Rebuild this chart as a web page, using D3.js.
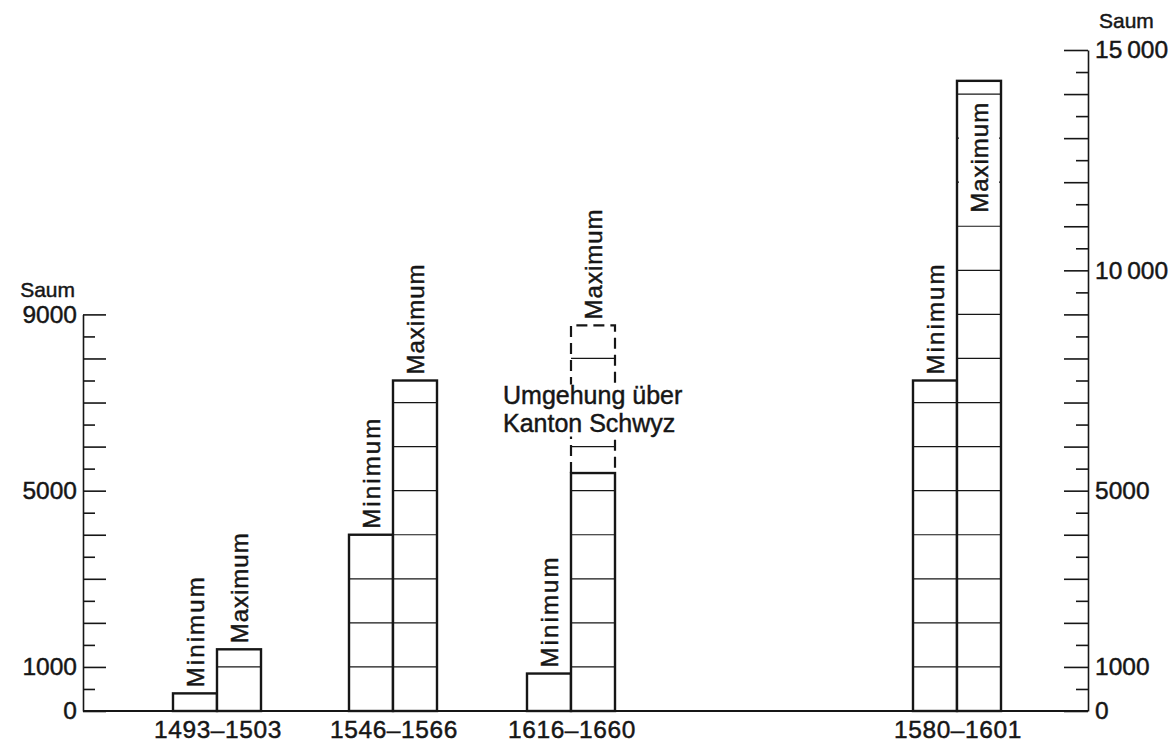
<!DOCTYPE html>
<html>
<head>
<meta charset="utf-8">
<script src="https://cdn.jsdelivr.net/npm/d3@7"></script>
<style>
  body { margin: 0; background: #fff; }
  text { font-family: "Liberation Sans", Arial, sans-serif; fill: #161616; stroke: #161616; stroke-width: 0.45; }
</style>
</head>
<body>
<script>
// data (Saum per year)
var periods = ["1493–1503", "1546–1566", "1616–1660", "1580–1601"];
var minimum = [400, 4000, 850, 7500];
var maximum = [1400, 7500, 5400, 14300];
// extra amount via the detour over Kanton Schwyz (only 1616-1660)
var bypassMax = [null, null, 8750, null];
var bypassNote = ["Umgehung über", "Kanton Schwyz"];

var leftTicks = [0, 1000, 5000, 9000];
var leftTickLabels = ["0", "1000", "5000", "9000"];
var rightTicks = [0, 1000, 5000, 10000, 15000];
var rightTickLabels = ["0", "1000", "5000", "10\u2009000", "15\u2009000"];
var unitLabel = "Saum";

var svgWidth = 1175;
var svgHeight = 742;
var axisLeftX = 83;
var axisRightX = 1088;
var ink = "#161616";

var svg = d3.select("body")
    .append("svg")
    .attr("width", svgWidth)
    .attr("height", svgHeight);

// one common value scale for both axes
var y = d3.scaleLinear().domain([0, 15000]).range([711, 50]);
var yLeft = y.copy().domain([0, 9000]).range([y(0), y(9000)]);

// group centres along the bottom, bars side by side
var xGroup = d3.scaleOrdinal().domain(periods).range([217, 393, 571, 957]);
var xInner = d3.scaleBand().domain(["Minimum", "Maximum"]).range([-44, 44]);

function styleAxis(g) {
  g.attr("font-family", null).attr("font-size", null).attr("color", ink);
  g.selectAll("line, path").attr("stroke-width", 1.6);
  g.selectAll("text").attr("font-size", 24.5);
}

// left axis: long ticks every 1000, short ones in between
svg.append("g")
  .attr("transform", `translate(${axisLeftX},0)`)
  .call(d3.axisLeft(yLeft)
    .tickValues(d3.range(0, 9001, 1000))
    .tickSizeInner(-23).tickSizeOuter(0).tickPadding(6)
    .tickFormat(d => leftTicks.indexOf(d) >= 0 ? leftTickLabels[leftTicks.indexOf(d)] : ""))
  .call(styleAxis);

svg.append("g")
  .attr("transform", `translate(${axisLeftX},0)`)
  .call(d3.axisLeft(yLeft)
    .tickValues(d3.range(500, 9000, 1000))
    .tickSizeInner(-12).tickSizeOuter(0).tickFormat(""))
  .call(styleAxis)
  .call(g => g.select(".domain").remove());

// right axis
svg.append("g")
  .attr("transform", `translate(${axisRightX},0)`)
  .call(d3.axisRight(y)
    .tickValues(d3.range(0, 15001, 1000))
    .tickSizeInner(-24).tickSizeOuter(0).tickPadding(7)
    .tickFormat(d => rightTicks.indexOf(d) >= 0 ? rightTickLabels[rightTicks.indexOf(d)] : ""))
  .call(styleAxis);

svg.append("g")
  .attr("transform", `translate(${axisRightX},0)`)
  .call(d3.axisRight(y)
    .tickValues(d3.range(500, 15000, 1000))
    .tickSizeInner(-12).tickSizeOuter(0).tickFormat(""))
  .call(styleAxis)
  .call(g => g.select(".domain").remove());

// unit labels
svg.append("text")
  .attr("x", axisLeftX - 8).attr("y", yLeft(9000) - 17)
  .attr("text-anchor", "end")
  .attr("font-size", 21)
  .text(unitLabel);
svg.append("text")
  .attr("x", axisRightX + 11).attr("y", y(15000) - 22)
  .attr("font-size", 21)
  .text(unitLabel);

// baseline
svg.append("line")
  .attr("x1", axisLeftX).attr("x2", axisRightX)
  .attr("y1", y(0)).attr("y2", y(0))
  .attr("stroke", ink).attr("stroke-width", 1.8);

// bars
var bars = [];
periods.forEach(function(p, i) {
  bars.push({period: p, kind: "Minimum", value: minimum[i], extra: null});
  bars.push({period: p, kind: "Maximum", value: maximum[i], extra: bypassMax[i]});
});

var barG = svg.append("g");
var bw = xInner.bandwidth();

bars.forEach(function(d) {
  var x0 = xGroup(d.period) + xInner(d.kind);
  var g = barG.append("g");

  g.append("rect")
    .attr("x", x0).attr("y", y(d.value))
    .attr("width", bw).attr("height", y(0) - y(d.value))
    .attr("fill", "#fff");

  // thin lines every 1000 inside the bar
  g.selectAll(".grid")
    .data(d3.range(1000, d.extra || d.value, 1000).filter(v => v !== d.value))
    .enter()
    .append("line")
    .attr("x1", x0).attr("x2", x0 + bw)
    .attr("y1", v => y(v)).attr("y2", v => y(v))
    .attr("stroke", ink).attr("stroke-width", 1.2);

  g.append("rect")
    .attr("x", x0).attr("y", y(d.value))
    .attr("width", bw).attr("height", y(0) - y(d.value))
    .attr("fill", "none")
    .attr("stroke", ink).attr("stroke-width", 2.4);

  if (d.extra) {
    g.append("path")
      .attr("d", `M${x0},${y(d.value)}V${y(d.extra)}H${x0 + bw}V${y(d.value)}`)
      .attr("fill", "none")
      .attr("stroke", ink).attr("stroke-width", 2.2)
      .attr("stroke-dasharray", "11,6");
  }

  // rotated label, above the bar or inside it when there is no room
  var top = y(d.extra || d.value);
  var cx = x0 + bw / 2;
  var labelLen = 110;
  var inside = top - 6 - labelLen < 0;
  var start = inside ? top + 22 + labelLen : top - 6;

  if (inside) {
    g.append("rect")
      .attr("x", x0 + 2).attr("y", start - labelLen - 6)
      .attr("width", bw - 4).attr("height", labelLen + 14)
      .attr("fill", "#fff");
  }
  g.append("text")
    .attr("transform", `translate(${cx},${start}) rotate(-90)`)
    .attr("dy", "0.36em")
    .attr("font-size", 24)
    .attr("textLength", labelLen)
    .attr("lengthAdjust", "spacing")
    .text(d.kind);
});

// note on the detour
periods.forEach(function(p, i) {
  if (!bypassMax[i]) return;
  var nx = xGroup(p) - 68;
  var ny = y(7000);
  svg.append("rect")
    .attr("x", nx - 4).attr("y", ny - 18)
    .attr("width", 190).attr("height", 52)
    .attr("fill", "#fff");
  svg.selectAll(".note")
    .data(bypassNote)
    .enter()
    .append("text")
    .attr("x", nx)
    .attr("y", (t, k) => ny + 1 + k * 28)
    .attr("font-size", 25)
    .text(t => t);
});

// period labels
svg.selectAll(".period")
  .data(periods)
  .enter()
  .append("text")
  .attr("x", d => xGroup(d) + 1)
  .attr("y", 738)
  .attr("text-anchor", "middle")
  .attr("font-size", 24.5)
  .attr("letter-spacing", 0.6)
  .text(d => d);
</script>
</body>
</html>
